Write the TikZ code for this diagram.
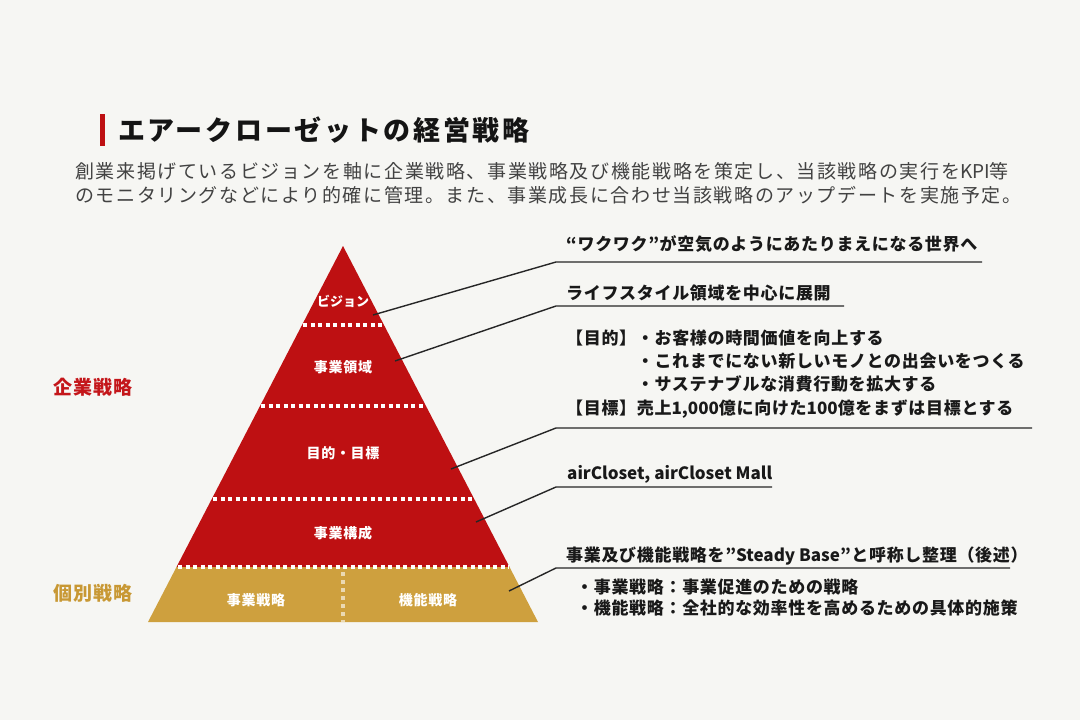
\documentclass[tikz,border=0pt]{standalone}
\usepackage{fontspec}
\setmainfont{Noto Sans CJK JP}

\definecolor{bgcol}{RGB}{246,246,243}
\definecolor{pyrred}{RGB}{190,16,18}
\definecolor{pyrgold}{RGB}{206,160,62}
\definecolor{labred}{RGB}{196,22,26}
\definecolor{labgold}{RGB}{200,152,52}
\definecolor{subgray}{RGB}{66,66,66}

\newcommand\latn[1]{{\addfontfeature{LetterSpace=0}#1}}

\begin{document}
\begin{tikzpicture}[x=1pt,y=-1pt,
        note/.style={anchor=base west,inner sep=0pt,text=black!90,
            font=\fontsize{17}{17}\selectfont\bfseries\addfontfeature{LetterSpace=4}},
        tier/.style={anchor=base,inner sep=0pt,text=white,
            font=\fontsize{14}{14}\selectfont\bfseries\addfontfeature{LetterSpace=5}},
        side/.style={anchor=base west,inner sep=0pt,
            font=\fontsize{19}{19}\selectfont\bfseries\addfontfeature{LetterSpace=5}},
        subline/.style={anchor=base west,inner sep=0pt,text=subgray,
            font=\fontsize{19}{19}\selectfont\addfontfeature{LetterSpace=8.5}},
        leader/.style={line width=1.4pt,black!85},
        dots/.style={white,line width=3.5pt,dash pattern=on 4pt off 3.5pt}]
        \fill[bgcol] (0,0) rectangle (1080,720);
        \useasboundingbox (0,0) rectangle (1080,720);

        \fill[pyrred] (100,114) rectangle (104.5,146);
        \node[anchor=base west,inner sep=0pt,text=black!92,
            font=\fontsize{27}{27}\selectfont\bfseries\addfontfeature{LetterSpace=10}]
            (title) at (118,140) {エアークローゼットの経営戦略};
        \node[subline] (sub1) at (75,178) {創業来掲げているビジョンを軸に企業戦略、事業戦略及び機能戦略を策定し、当該戦略の実行を\latn{KPI}等};
        \node[subline] (sub2) at (75,202) {のモニタリングなどにより的確に管理。また、事業成長に合わせ当該戦略のアップデートを実施予定。};

        \coordinate (apex) at (343,246);
        \coordinate (gl) at (176.5,567);
        \coordinate (gr) at (509.5,567);
        \coordinate (bl) at (148,622);
        \coordinate (br) at (538,622);
        \fill[pyrred] (apex) -- (gr) -- (gl) -- cycle;
        \fill[pyrgold] (gl) -- (gr) -- (br) -- (bl) -- cycle;

        \draw[dots] (303,325) -- (384,325);
        \draw[dots] (261,406) -- (426,406);
        \draw[dots] (213,499) -- (474,499);
        \draw[dots] (178,567) -- (509,567);
        \draw[dots,white!60!pyrgold,dash pattern=on 4pt off 4pt] (343,572) -- (343,622);

        \node[tier,font=\fontsize{13}{13}\selectfont\bfseries] (vision) at (343,306) {ビジョン};
        \node[tier] (domain) at (343,372) {事業領域};
        \node[tier] (goal) at (343,458) {目的・目標};
        \node[tier] (makeup) at (343,538) {事業構成};
        \node[tier] (bizstr) at (256,605) {事業戦略};
        \node[tier] (funcstr) at (428,605) {機能戦略};

        \node[side,text=labred] (corp) at (53,394) {企業戦略};
        \node[side,text=labgold] (indiv) at (53,600) {個別戦略};

        \node[note] (t1) at (566,250.5) {“ワクワク”が空気のようにあたりまえになる世界へ};
        \node[note] (t2) at (566,299.5) {ライフスタイル領域を中心に展開};
        \node[note] (t3a) at (566,344.5) {【目的】・お客様の時間価値を向上する};
        \node[note] (t3b) at (636.7,367.5) {・これまでにない新しいモノとの出会いをつくる};
        \node[note] (t3c) at (636.7,390.5) {・サステナブルな消費行動を拡大する};
        \node[note] (t3d) at (566,414.5) {【目標】売上\latn{1,000}億に向けた\latn{100}億をまずは目標とする};
        \node[note] (t4) at (567,479.5) {\latn{airCloset, airCloset Mall}};
        \node[note] (t5) at (566,561.5) {事業及び機能戦略を”\latn{Steady Base}”と呼称し整理（後述）};
        \node[note] (t6a) at (576,593.5) {・事業戦略：事業促進のための戦略};
        \node[note] (t6b) at (576,614.5) {・機能戦略：全社的な効率性を高めるための具体的施策};

        \coordinate (c1) at (373,315);
        \coordinate (c2) at (395,361);
        \coordinate (c3) at (451,469);
        \coordinate (c4) at (476,522);
        \coordinate (c5) at (509,591);
        \coordinate (k1) at (556,262);
        \coordinate (k2) at (556,306);
        \coordinate (k3) at (556,428);
        \coordinate (k4) at (556,487);
        \coordinate (k5) at (556,568);
        \coordinate (u1) at (982,262);
        \coordinate (u2) at (844,306);
        \coordinate (u3) at (1032,428);
        \coordinate (u4) at (772,487);
        \coordinate (u5) at (1010,568);

        \draw[leader] (c1) -- (k1) -- (u1);
        \draw[leader] (c2) -- (k2) -- (u2);
        \draw[leader] (c3) -- (k3) -- (u3);
        \draw[leader] (c4) -- (k4) -- (u4);
        \draw[leader] (c5) -- (k5) -- (u5);
\end{tikzpicture}
\end{document}
